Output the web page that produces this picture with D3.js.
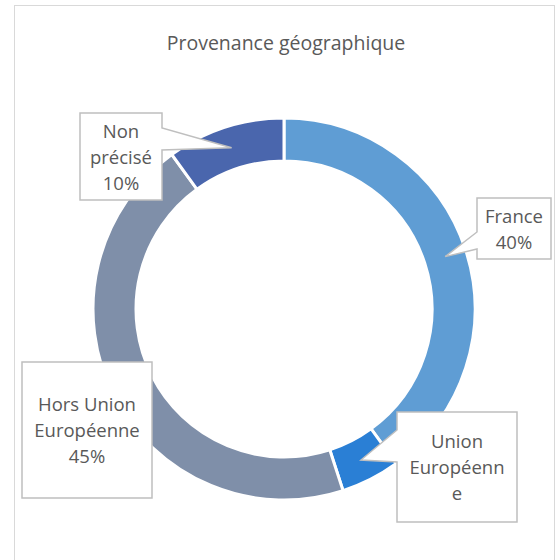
<!DOCTYPE html>
<html>
<head>
<meta charset="utf-8">
<script src="https://cdn.jsdelivr.net/npm/d3@7"></script>
<style>
  body { margin: 0; background: #fff; }
  svg text { font-family: "Open Sans", sans-serif; fill: #595959; }
</style>
</head>
<body>
<svg id="chart" width="557" height="560"></svg>
<script>
const categories = ['France', 'Union Européenne', 'Hors Union Européenne', 'Non précisé'];
const values = [40, 5, 45, 10];
const labelLines = [
    ['France', '40%'],
    ['Union', 'Européenn', 'e'],
    ['Hors Union', 'Européenne', '45%'],
    ['Non', 'précisé', '10%']
];
const colors = ['#5f9dd4', '#2a7fd5', '#7f8fa9', '#4a66ad'];

// callout boxes (layout only)
const boxes = [
    { x: 477, y: 198, w: 74, h: 61, wedge: [232, 249], side: 'left', pointer: true },
    { x: 397, y: 412, w: 120, h: 110, wedge: [430, 462], side: 'left', pointer: true },
    { x: 22, y: 362, w: 130, h: 136, pointer: false },
    { x: 80, y: 113, w: 82, h: 87, wedge: [128, 150], side: 'right', pointer: true }
];

const svg = d3.select('#chart');
const cx = 284, cy = 309;
const outerR = 191, innerR = 148;

svg.append('rect')
    .attr('x', 14.5).attr('y', 5.5)
    .attr('width', 540).attr('height', 570)
    .attr('fill', '#fff')
    .attr('stroke', '#d9d9d9');

svg.append('text')
    .attr('x', 286).attr('y', 50)
    .attr('text-anchor', 'middle')
    .attr('font-size', 19.5)
    .text('Provenance géographique');

const pie = d3.pie().sort(null).value(d => d);
const arcs = pie(values);
const arc = d3.arc().innerRadius(innerR).outerRadius(outerR);

const g = svg.append('g').attr('transform', `translate(${cx},${cy})`);
g.selectAll('path')
    .data(arcs)
    .enter().append('path')
    .attr('d', arc)
    .attr('fill', (d, i) => colors[i])
    .attr('stroke', '#fff')
    .attr('stroke-width', 3);

arcs.forEach((a, i) => {
    const b = boxes[i];
    const c = arc.centroid(a);
    const tip = [c[0] + cx, c[1] + cy];
    let p;
    if (!b.pointer) {
        p = `M${b.x},${b.y}H${b.x + b.w}V${b.y + b.h}H${b.x}Z`;
    } else if (b.side === 'left') {
        p = `M${b.x},${b.y}H${b.x + b.w}V${b.y + b.h}H${b.x}V${b.wedge[1]}L${tip[0]},${tip[1]}L${b.x},${b.wedge[0]}Z`;
    } else {
        const r = b.x + b.w;
        p = `M${b.x},${b.y}H${r}V${b.wedge[0]}L${tip[0]},${tip[1]}L${r},${b.wedge[1]}V${b.y + b.h}H${b.x}Z`;
    }
    svg.append('path')
        .attr('d', p)
        .attr('fill', '#fff')
        .attr('stroke', '#bfbfbf')
        .attr('stroke-width', 1.5);

    const lines = labelLines[i];
    const lh = 26;
    const midY = b.y + b.h / 2;
    const t = svg.append('text')
        .attr('text-anchor', 'middle')
        .attr('font-size', 18.5);
    lines.forEach((l, j) => {
        t.append('tspan')
            .attr('x', b.x + b.w / 2)
            .attr('y', midY + (j - (lines.length - 1) / 2) * lh + 7)
            .text(l);
    });
});
</script>
</body>
</html>
